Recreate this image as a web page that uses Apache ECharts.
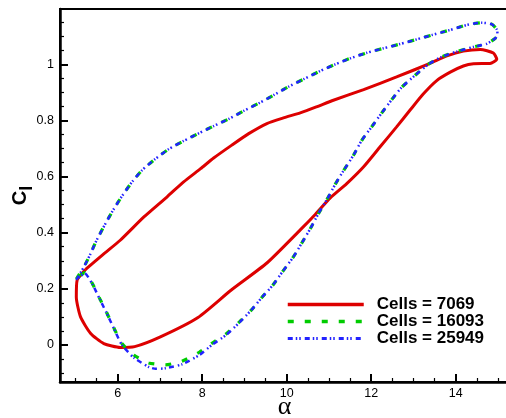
<!DOCTYPE html>
<html>
<head>
<meta charset="utf-8">
<script src="https://cdn.jsdelivr.net/npm/echarts@6/dist/echarts.min.js"></script>
<style>html,body{margin:0;padding:0;background:#fff;}#c{width:506px;height:418px;}</style>
</head>
<body>
<div id="c"></div>
<script>
const xMajor = [6, 8, 10, 12, 14];
const xMinor = [5, 5.5, 6.5, 7, 7.5, 8.5, 9, 9.5, 10.5, 11, 11.5, 12.5, 13, 13.5, 14.5, 15];
const yMajor = [0, 0.2, 0.4, 0.6, 0.8, 1];
const yMinor = [-0.1, -0.05, 0.05, 0.1, 0.15, 0.25, 0.3, 0.35, 0.45, 0.5, 0.55, 0.65, 0.7, 0.75, 0.85, 0.9, 0.95, 1.05, 1.1, 1.15];

const seriesNames = ['Cells = 7069', 'Cells = 16093', 'Cells = 25949'];

const redAlpha = [5.24,5.65,6.06,6.62,7.17,7.56,7.96,8.27,8.70,9.10,9.53,9.92,10.32,10.70,11.07,11.82,12.60,13.39,13.79,14.18,14.58,14.89,14.97,14.81,14.42,14.18,13.87,13.55,13.23,12.92,12.60,12.21,11.82,11.42,11.03,10.68,10.32,9.53,8.68,7.90,7.01,6.40,6.06,5.67,5.36,5.12,5.02,5.04,5.24];
const redCl    = [0.269,0.322,0.373,0.456,0.528,0.581,0.628,0.666,0.712,0.753,0.789,0.809,0.827,0.848,0.870,0.910,0.955,1.003,1.030,1.047,1.053,1.040,1.018,1.003,1.002,0.994,0.972,0.942,0.894,0.837,0.777,0.706,0.635,0.575,0.524,0.466,0.410,0.292,0.195,0.098,0.029,-0.006,-0.009,0.005,0.041,0.100,0.171,0.231,0.269];

const greenAlpha = [5.02,5.20,5.34,5.50,5.69,5.89,6.10,6.34,6.58,6.89,7.21,7.56,7.93,8.27,8.64,8.98,9.36,9.69,10.04,10.40,10.79,11.15,11.50,11.90,12.29,12.68,13.08,13.43,13.86,14.26,14.61,14.85,14.97,14.99,14.93,14.73,14.42,14.02,13.67,13.35,13.04,12.72,12.49,12.25,12.01,11.78,11.58,11.34,11.15,10.95,10.75,10.56,10.36,10.15,9.91,9.67,9.41,9.16,8.88,8.57,8.23,7.93,7.52,7.13,6.73,6.38,6.10,5.905,5.73,5.575,5.40,5.22,5.02];
const greenCl    = [0.235,0.278,0.320,0.373,0.427,0.480,0.530,0.581,0.623,0.663,0.698,0.727,0.755,0.780,0.806,0.834,0.863,0.890,0.920,0.947,0.976,1.000,1.021,1.041,1.057,1.072,1.089,1.104,1.122,1.140,1.148,1.143,1.124,1.105,1.092,1.073,1.062,1.045,1.027,1.000,0.961,0.918,0.875,0.827,0.777,0.730,0.676,0.620,0.573,0.518,0.468,0.415,0.364,0.312,0.263,0.213,0.169,0.124,0.082,0.040,0.006,-0.026,-0.058,-0.071,-0.064,-0.036,0.005,0.062,0.118,0.165,0.219,0.258,0.235];

const blueAlpha = [5.02,5.20,5.34,5.50,5.69,5.89,6.10,6.34,6.58,6.89,7.21,7.56,7.93,8.27,8.64,8.98,9.36,9.69,10.04,10.40,10.79,11.15,11.50,11.90,12.29,12.68,13.08,13.43,13.86,14.26,14.61,14.85,14.97,14.99,14.93,14.73,14.42,14.02,13.67,13.35,13.04,12.72,12.49,12.25,12.01,11.78,11.58,11.34,11.15,10.95,10.75,10.56,10.36,10.15,9.91,9.67,9.41,9.16,8.88,8.57,8.23,7.93,7.52,7.13,6.90,6.73,6.38,6.10,5.905,5.73,5.575,5.40,5.22,5.02];
const blueCl    = [0.232,0.278,0.320,0.373,0.427,0.480,0.530,0.581,0.623,0.663,0.698,0.727,0.755,0.780,0.806,0.834,0.863,0.890,0.920,0.947,0.976,1.000,1.021,1.041,1.057,1.072,1.089,1.104,1.122,1.140,1.148,1.143,1.124,1.105,1.092,1.073,1.062,1.045,1.027,1.000,0.961,0.918,0.875,0.827,0.777,0.730,0.676,0.620,0.573,0.518,0.468,0.415,0.364,0.312,0.263,0.213,0.169,0.124,0.080,0.036,0.000,-0.036,-0.069,-0.083,-0.085,-0.078,-0.045,0.000,0.060,0.116,0.163,0.217,0.255,0.232];

function zip(a, b) { return a.map((v, i) => [v, b[i]]); }

const chart = echarts.init(document.getElementById('c'), null, {renderer: 'canvas'});
const font = 'Liberation Sans, Arial, sans-serif';
const xMin = 4.634, xMax = 15.26, yMin = -0.132, yMax = 1.197;
const colors = ['#dd0000', '#00cc00', '#2222ff'];
const dashes = ['solid', [6, 11], [5, 3, 1.5, 2, 1.5, 4]];
const widths = [3, 3.2, 2.5];

chart.setOption({
  animation: false,
  backgroundColor: '#fff',
  grid: {left: 60, right: -3, top: 9, bottom: 36, show: true, borderColor: '#000', borderWidth: 2, containLabel: false, outerBoundsMode: 'none'},
  legend: {
    orient: 'vertical', left: 286, top: 296, itemWidth: 76, itemHeight: 14, itemGap: 0, padding: 0,
    itemStyle: {opacity: 0},
    textStyle: {fontFamily: font, fontWeight: 'bold', fontSize: 17, color: '#000', padding: [0, 0, 0, 8]},
    data: seriesNames.map((n, i) => ({name: n, lineStyle: {width: widths[i] + 0.3}}))
  },
  xAxis: [{
    type: 'value', min: xMin, max: xMax, position: 'bottom',
    axisLine: {show: true, onZero: false, lineStyle: {color: '#000', width: 2.5}},
    axisTick: {show: true, inside: true, length: 8, customValues: xMajor, lineStyle: {color: '#000', width: 2}},
    axisLabel: {customValues: xMajor, fontFamily: font, fontSize: 12.5, color: '#000', margin: 5},
    splitLine: {show: false},
    name: 'α', nameLocation: 'middle', nameGap: 12, nameMoveOverlap: false,
    nameTextStyle: {fontFamily: 'Liberation Serif, serif', fontSize: 26, color: '#000'}
  }, {
    type: 'value', min: xMin, max: xMax, position: 'bottom', gridIndex: 0,
    axisLine: {show: false, onZero: false},
    axisTick: {show: true, inside: true, length: 4, customValues: xMinor, lineStyle: {color: '#000', width: 1.2}},
    axisLabel: {show: false}, splitLine: {show: false}
  }],
  yAxis: [{
    type: 'value', min: yMin, max: yMax, position: 'left',
    axisLine: {show: true, onZero: false, lineStyle: {color: '#000', width: 2.5}},
    axisTick: {show: true, inside: true, length: 8, customValues: yMajor, lineStyle: {color: '#000', width: 2}},
    axisLabel: {customValues: yMajor, fontFamily: font, fontSize: 12.5, color: '#000', margin: 6},
    splitLine: {show: false},
    name: '{c|C}{l|l}', nameLocation: 'middle', nameGap: 24, nameMoveOverlap: false,
    nameTextStyle: {
      rich: {
        c: {fontFamily: font, fontWeight: 'bold', fontSize: 20, color: '#000', lineHeight: 32, verticalAlign: 'middle'},
        l: {fontFamily: font, fontWeight: 'bold', fontSize: 18, color: '#000', lineHeight: 32, verticalAlign: 'bottom'}
      }
    }
  }, {
    type: 'value', min: yMin, max: yMax, position: 'left', gridIndex: 0,
    axisLine: {show: false, onZero: false},
    axisTick: {show: true, inside: true, length: 4, customValues: yMinor, lineStyle: {color: '#000', width: 1.2}},
    axisLabel: {show: false}, splitLine: {show: false}
  }],
  series: [{
    name: seriesNames[0], type: 'line', xAxisIndex: 0, yAxisIndex: 0,
    data: zip(redAlpha, redCl), symbol: 'none', smooth: 0.2,
    lineStyle: {color: colors[0], width: widths[0], type: dashes[0]}, itemStyle: {color: colors[0]}
  }, {
    name: seriesNames[1], type: 'line', xAxisIndex: 0, yAxisIndex: 0,
    data: zip(greenAlpha, greenCl), symbol: 'none', smooth: 0.2,
    lineStyle: {color: colors[1], width: widths[1], type: dashes[1]}, itemStyle: {color: colors[1]}
  }, {
    name: seriesNames[2], type: 'line', xAxisIndex: 0, yAxisIndex: 0,
    data: zip(blueAlpha, blueCl), symbol: 'none', smooth: 0.2,
    lineStyle: {color: colors[2], width: widths[2], type: dashes[2]}, itemStyle: {color: colors[2]}
  }]
});
</script>
</body>
</html>
